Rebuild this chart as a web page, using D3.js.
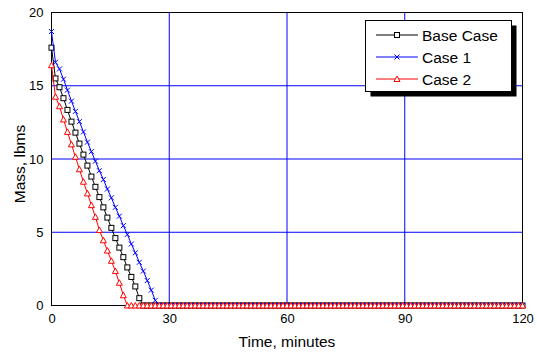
<!DOCTYPE html>
<html>
<head>
<meta charset="utf-8">
<script src="https://cdn.jsdelivr.net/npm/d3@7"></script>
<style>
  body { margin: 0; background: #fff; }
  svg { display: block; font-family: "Liberation Sans", Arial, sans-serif; }
</style>
</head>
<body>
<svg id="chart" width="537" height="354"></svg>
<script>
// 119 samples from 0 to 120 min
const stepMinutes = 120 / 118;

const baseCase = [
  17.6, 15.5, 14.9, 14.15, 13.35, 12.55, 11.8, 11.05, 10.3, 9.55,
  8.8, 8.1, 7.4, 6.7, 6.0, 5.3, 4.6, 3.95, 3.3, 2.6,
  1.95, 1.3, 0.5,
  0, 0, 0, 0, 0, 0, 0, 0, 0, 0,
  0, 0, 0, 0, 0, 0, 0, 0, 0, 0,
  0, 0, 0, 0, 0, 0, 0, 0, 0, 0,
  0, 0, 0, 0, 0, 0, 0, 0, 0, 0,
  0, 0, 0, 0, 0, 0, 0, 0, 0, 0,
  0, 0, 0, 0, 0, 0, 0, 0, 0, 0,
  0, 0, 0, 0, 0, 0, 0, 0, 0, 0,
  0, 0, 0, 0, 0, 0, 0, 0, 0, 0,
  0, 0, 0, 0, 0, 0, 0, 0, 0, 0,
  0, 0, 0, 0, 0, 0
];

const case1 = [
  18.7, 16.6, 16.15, 15.45, 14.7, 13.95, 13.25, 12.55, 11.85, 11.15,
  10.5, 9.85, 9.2, 8.6, 7.95, 7.35, 6.7, 6.1, 5.45, 4.85,
  4.2, 3.6, 2.95, 2.35, 1.7, 1.05, 0.35,
  0, 0, 0, 0, 0, 0, 0, 0, 0, 0,
  0, 0, 0, 0, 0, 0, 0, 0, 0, 0,
  0, 0, 0, 0, 0, 0, 0, 0, 0, 0,
  0, 0, 0, 0, 0, 0, 0, 0, 0, 0,
  0, 0, 0, 0, 0, 0, 0, 0, 0, 0,
  0, 0, 0, 0, 0, 0, 0, 0, 0, 0,
  0, 0, 0, 0, 0, 0, 0, 0, 0, 0,
  0, 0, 0, 0, 0, 0, 0, 0, 0, 0,
  0, 0, 0, 0, 0, 0, 0, 0, 0, 0,
  0, 0
];

const case2 = [
  16.4, 14.25, 13.6, 12.7, 11.85, 11.0, 10.15, 9.3, 8.45, 7.65,
  6.85, 6.05, 5.15, 4.45, 3.75, 3.05, 2.35, 1.55, 0.7,
  0, 0, 0, 0, 0, 0, 0, 0, 0, 0,
  0, 0, 0, 0, 0, 0, 0, 0, 0, 0,
  0, 0, 0, 0, 0, 0, 0, 0, 0, 0,
  0, 0, 0, 0, 0, 0, 0, 0, 0, 0,
  0, 0, 0, 0, 0, 0, 0, 0, 0, 0,
  0, 0, 0, 0, 0, 0, 0, 0, 0, 0,
  0, 0, 0, 0, 0, 0, 0, 0, 0, 0,
  0, 0, 0, 0, 0, 0, 0, 0, 0, 0,
  0, 0, 0, 0, 0, 0, 0, 0, 0, 0,
  0, 0, 0, 0, 0, 0, 0, 0, 0, 0
];

const seriesNames = ["Base Case", "Case 1", "Case 2"];
const xTicks = [0, 30, 60, 90, 120];
const yTicks = [0, 5, 10, 15, 20];

const plotLeft = 51.5, plotRight = 522.5, plotTop = 12.5, plotBottom = 305.5;

const svg = d3.select("#chart");

const x = d3.scaleLinear().domain([0, 120]).range([plotLeft, plotRight]);
const y = d3.scaleLinear().domain([0, 20]).range([plotBottom, plotTop]);

const series = [
  { name: seriesNames[0], values: baseCase, color: "#000000", marker: "square" },
  { name: seriesNames[1], values: case1, color: "#0000ff", marker: "cross" },
  { name: seriesNames[2], values: case2, color: "#ff0000", marker: "triangle" }
];

// grid
const grid = svg.append("g").attr("stroke", "#0000ff").attr("stroke-width", 1);
grid.selectAll(".gx")
  .data(xTicks.slice(1, -1))
  .join("line")
  .attr("class", "gx")
  .attr("x1", d => x(d))
  .attr("x2", d => x(d))
  .attr("y1", plotTop)
  .attr("y2", plotBottom);
grid.selectAll(".gy")
  .data(yTicks.slice(1, -1))
  .join("line")
  .attr("class", "gy")
  .attr("x1", plotLeft)
  .attr("x2", plotRight)
  .attr("y1", d => y(d))
  .attr("y2", d => y(d));

// frame
svg.append("rect")
  .attr("x", plotLeft).attr("y", plotTop)
  .attr("width", plotRight - plotLeft).attr("height", plotBottom - plotTop)
  .attr("fill", "none").attr("stroke", "#000").attr("stroke-width", 1);

// axes (labels only)
const xAxis = svg.append("g")
  .attr("transform", `translate(0,${plotBottom})`)
  .call(d3.axisBottom(x).tickValues(xTicks).tickSize(0).tickPadding(8));
const yAxis = svg.append("g")
  .attr("transform", `translate(${plotLeft},0)`)
  .call(d3.axisLeft(y).tickValues(yTicks).tickSize(0).tickPadding(8));
[xAxis, yAxis].forEach(a => {
  a.select(".domain").remove();
  a.selectAll("text")
    .attr("font-family", "Liberation Sans, Arial, sans-serif")
    .attr("font-size", 13)
    .attr("fill", "#000");
});

svg.append("text")
  .attr("x", (plotLeft + plotRight) / 2)
  .attr("y", 347)
  .attr("text-anchor", "middle")
  .attr("font-size", 15.5)
  .text("Time, minutes");

svg.append("text")
  .attr("transform", `translate(25,164) rotate(-90)`)
  .attr("text-anchor", "middle")
  .attr("font-size", 15.5)
  .text("Mass, lbms");

function drawMarker(g, type, color, cx, cy) {
  if (type === "square") {
    g.append("rect")
      .attr("x", cx - 2.5).attr("y", cy - 2.5)
      .attr("width", 5).attr("height", 5)
      .attr("fill", "#fff").attr("stroke", color).attr("stroke-width", 1);
  } else if (type === "cross") {
    g.append("path")
      .attr("d", `M${cx - 2.5},${cy - 2.5}L${cx + 2.5},${cy + 2.5}M${cx - 2.5},${cy + 2.5}L${cx + 2.5},${cy - 2.5}`)
      .attr("stroke", color).attr("stroke-width", 1).attr("fill", "none");
  } else {
    g.append("path")
      .attr("d", `M${cx},${cy - 3}L${cx + 3},${cy + 2.5}L${cx - 3},${cy + 2.5}Z`)
      .attr("fill", "#fff").attr("stroke", color).attr("stroke-width", 1);
  }
}

const line = d3.line()
  .x((d, i) => x(i * stepMinutes))
  .y(d => y(d));

series.forEach(s => {
  const g = svg.append("g");
  g.append("path")
    .attr("d", line(s.values))
    .attr("fill", "none")
    .attr("stroke", s.color)
    .attr("stroke-width", 1);
  s.values.forEach((v, i) => drawMarker(g, s.marker, s.color, x(i * stepMinutes), y(v)));
});

// legend
const lx = 365.5, ly = 20.5, lw = 146, lh = 71;
svg.append("rect")
  .attr("x", lx + 5).attr("y", ly + 5)
  .attr("width", lw).attr("height", lh)
  .attr("fill", "#000");
svg.append("rect")
  .attr("x", lx).attr("y", ly)
  .attr("width", lw).attr("height", lh)
  .attr("fill", "#fff").attr("stroke", "#000").attr("stroke-width", 1);

series.forEach((s, i) => {
  const ry = 35 + i * 22;
  const g = svg.append("g");
  g.append("line")
    .attr("x1", 376).attr("x2", 418)
    .attr("y1", ry).attr("y2", ry)
    .attr("stroke", s.color).attr("stroke-width", 1);
  drawMarker(g, s.marker, s.color, 397, ry);
  g.append("text")
    .attr("x", 422)
    .attr("y", ry)
    .attr("dy", "0.36em")
    .attr("font-size", 15.5)
    .text(s.name);
});
</script>
</body>
</html>
